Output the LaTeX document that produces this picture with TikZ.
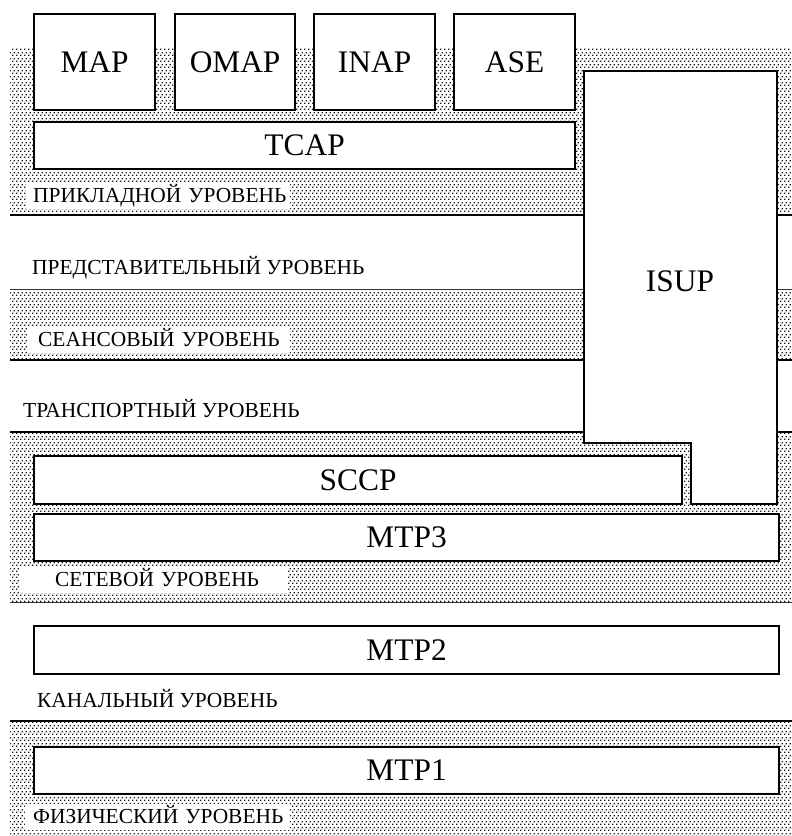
\documentclass[tikz,border=0pt]{standalone}
\usepackage{fontspec}
\setmainfont{Liberation Serif}
\usetikzlibrary{patterns.meta}
\pgfdeclarepattern{
  name=refdots,
  type=uncolored,
  bottom left={\pgfpointorigin},
  top right={\pgfpoint{4bp}{6bp}},
  tile size={\pgfpoint{4bp}{6bp}},
  code={
    \pgfpathrectangle{\pgfpointorigin}{\pgfpoint{1.6bp}{1.6bp}}
    \pgfpathrectangle{\pgfpoint{2bp}{3bp}}{\pgfpoint{1.6bp}{1.6bp}}
    \pgfusepath{fill}
  }
}
\newcommand{\bigfnt}{\fontsize{31.5}{36}\selectfont}
\newcommand{\smallfnt}{\fontsize{21.5}{25}\selectfont}
\tikzset{
  band/.style={pattern=refdots, pattern color=black!90},
  heavyline/.style={line width=2bp},
  lightline/.style={line width=1bp, black!80},
  proto/.style={draw, line width=2.2bp, fill=white, inner sep=0pt, anchor=north west, font=\bigfnt},
  isupline/.style={draw, line width=2.2bp, fill=white},
  lvl/.style={anchor=base west, inner sep=0pt, font=\smallfnt},
  lvlbox/.style={anchor=base west, fill=white, inner xsep=0pt, inner ysep=3bp,
     text height=16bp, text depth=4bp, align=left, font=\smallfnt}
}
\begin{document}
\begin{tikzpicture}[x=1bp,y=-1bp]
\useasboundingbox (0,0) rectangle (792,836);
% dotted bands
\fill[band] (10,48) rectangle (792,215);
\fill[band] (10,289) rectangle (792,360);
\fill[band] (10,432) rectangle (792,602);
\fill[band] (10,721) rectangle (792,836);
% layer separators
\draw[heavyline] (10,215) -- (792,215);
\draw[lightline] (10,289) -- (792,289);
\draw[heavyline] (10,360) -- (792,360);
\draw[heavyline] (10,432) -- (792,432);
\draw[lightline] (10,602) -- (792,602);
\draw[heavyline] (10,721) -- (792,721);
% protocol boxes
\node[proto, minimum width=121bp, minimum height=96bp] (map) at (33,13) {MAP};
\node[proto, minimum width=120bp, minimum height=96bp] (omap) at (174,13) {OMAP};
\node[proto, minimum width=121bp, minimum height=96bp] (inap) at (313,13) {INAP};
\node[proto, minimum width=121bp, minimum height=96bp] (ase) at (453,13) {ASE};
\node[proto, minimum width=541bp, minimum height=47bp] (tcap) at (33,121) {TCAP};
\node[proto, minimum width=648bp, minimum height=48bp] (sccp) at (33,455) {SCCP};
\node[proto, minimum width=745bp, minimum height=47bp] (mtp3) at (33,513) {MTP3};
\node[proto, minimum width=745bp, minimum height=48bp] (mtp2) at (33,625) {MTP2};
\node[proto, minimum width=745bp, minimum height=47bp] (mtp1) at (33,746) {MTP1};
% ISUP
\draw[isupline] (584,71) -- (777,71) -- (777,504) -- (691,504) -- (691,443) -- (584,443) -- cycle;
\node[font=\bigfnt, inner sep=0pt] (isup) at (680,281) {ISUP};
% level labels
\node[lvlbox, text width=264bp] (lapp) at (26,202) {\hspace*{7bp}ПРИКЛАДНОЙ УРОВЕНЬ};
\node[lvl] (lpres) at (32,274) {ПРЕДСТАВИТЕЛЬНЫЙ УРОВЕНЬ};
\node[lvlbox, text width=263bp] (lsess) at (27,346) {\hspace*{11bp}СЕАНСОВЫЙ УРОВЕНЬ};
\node[lvl] (ltrans) at (23,417) {ТРАНСПОРТНЫЙ УРОВЕНЬ};
\node[lvlbox, text width=267bp] (lnet) at (20,586) {\hspace*{35bp}СЕТЕВОЙ УРОВЕНЬ};
\node[lvl] (lkan) at (37,707) {КАНАЛЬНЫЙ УРОВЕНЬ};
\node[lvlbox, text width=265bp] (lphys) at (25,823) {\hspace*{8bp}ФИЗИЧЕСКИЙ УРОВЕНЬ};
\end{tikzpicture}
\end{document}
